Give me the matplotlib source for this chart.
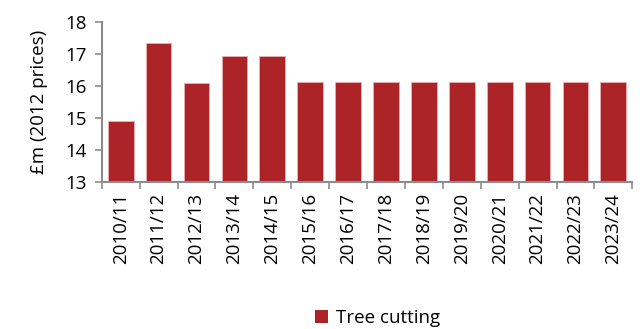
import matplotlib
matplotlib.use("Agg")
import matplotlib.pyplot as plt
from matplotlib.patches import Patch
import numpy as np

categories = ["2010/11", "2011/12", "2012/13", "2013/14", "2014/15", "2015/16", "2016/17",
              "2017/18", "2018/19", "2019/20", "2020/21", "2021/22", "2022/23", "2023/24"]
values = [14.9, 17.35, 16.1, 16.93, 16.93, 16.12, 16.12, 16.12, 16.12, 16.12, 16.12, 16.12, 16.12, 16.12]
series_name = "Tree cutting"
yticks = [13, 14, 15, 16, 17, 18]

plt.rcParams['font.family'] = ['Open Sans', 'DejaVu Sans']
color = "#AC2328"
grey = "#8C8C8C"
fs = 13.5

fig = plt.figure(figsize=(6.4, 3.29), dpi=100)
ax = fig.add_axes([0.159, 0.447, 0.829, 0.486])
x = np.arange(len(categories))
ax.bar(x, [v - 13 for v in values], bottom=13, width=0.68, color=color,
       edgecolor="#E8B0B2", linewidth=0.6)
ax.set_xlim(-0.5, len(categories) - 0.5)
ax.set_ylim(13, 18)
ax.set_yticks(yticks)
ax.set_yticklabels([str(t) for t in yticks], fontsize=fs)
ax.set_xticks(x)
ax.set_xticklabels(categories, rotation=90, fontsize=fs)
ax.tick_params(axis='x', length=0, pad=8)
ax.set_xticks(np.arange(-0.5, len(categories)), minor=True)
ax.tick_params(axis='x', which='minor', length=5, color=grey, width=1.2)
ax.tick_params(axis='y', length=5, color=grey, width=1.2, pad=6)
for s in ['top', 'right']:
    ax.spines[s].set_visible(False)
for s in ['left', 'bottom']:
    ax.spines[s].set_color(grey)
    ax.spines[s].set_linewidth(1.5)
ax.set_ylabel("£m (2012 prices)", fontsize=fs, labelpad=12)
fig.legend(handles=[Patch(facecolor=color, label=series_name)], loc='lower center',
           bbox_to_anchor=(0.59, -0.045), frameon=False, fontsize=fs,
           handlelength=0.7, handleheight=0.7, handletextpad=0.4)
fig.savefig("out.png", dpi=100)
